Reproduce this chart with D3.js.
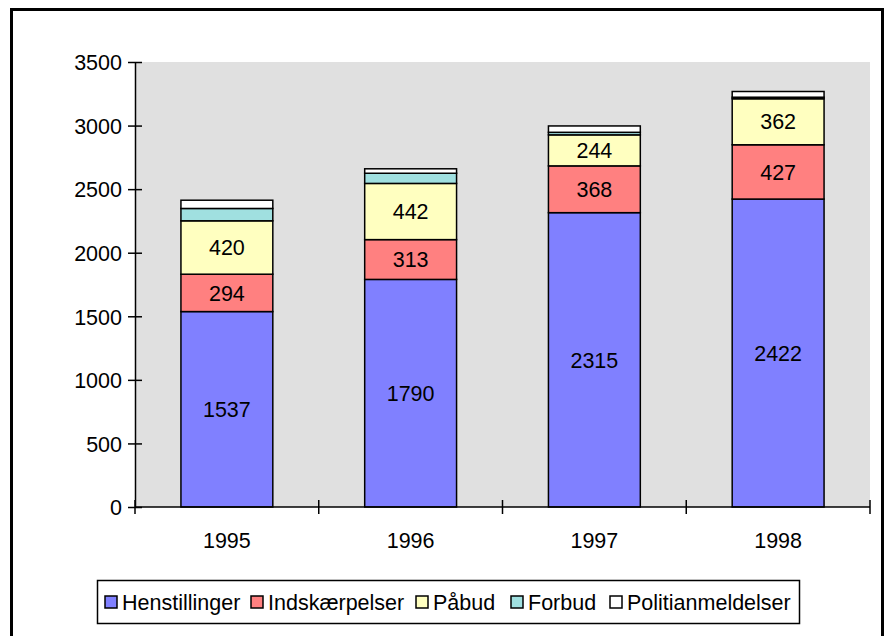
<!DOCTYPE html>
<html>
<head>
<meta charset="utf-8">
<script src="https://cdn.jsdelivr.net/npm/d3@7"></script>
<style>
  body { margin: 0; background: #fff; }
  svg text { font-family: "Liberation Sans", Arial, sans-serif; fill: #000; }
</style>
</head>
<body>
<div id="chart"></div>
<script>
// data
const years = ['1995', '1996', '1997', '1998'];
const series = ['Henstillinger', 'Indskærpelser', 'Påbud', 'Forbud', 'Politianmeldelser'];
const henstillinger = [1537, 1790, 2315, 2422];
const indskaerpelser = [294, 313, 368, 427];
const paabud = [420, 442, 244, 362];
const forbud = [97, 80, 20, 12];
const politianmeldelser = [65, 35, 50, 45];
const yTicks = [0, 500, 1000, 1500, 2000, 2500, 3000, 3500];
const colors = ['#8080ff', '#ff8080', '#ffffc0', '#a0e0e0', '#ffffff'];
const labelled = [true, true, true, false, false];

const table = years.map((y, i) => ({
	year: y,
	Henstillinger: henstillinger[i],
	'Indskærpelser': indskaerpelser[i],
	'Påbud': paabud[i],
	Forbud: forbud[i],
	Politianmeldelser: politianmeldelser[i]
}));

const W = 886, H = 636;
const margin = { left: 135, top: 62, right: 16, bottom: 129 };
const fontSize = '21.5px';

const svg = d3.select('#chart').append('svg')
	.attr('width', W)
	.attr('height', H);

// outer frame
svg.append('rect')
	.attr('x', 11.5).attr('y', 9.5)
	.attr('width', 871).attr('height', 640)
	.attr('fill', '#fff')
	.attr('stroke', '#000')
	.attr('stroke-width', 3);

const x = d3.scaleBand()
	.domain(years)
	.range([margin.left, W - margin.right])
	.paddingInner(0.5)
	.paddingOuter(0.25);

const y = d3.scaleLinear()
	.domain([0, 3500])
	.range([H - margin.bottom, margin.top]);

// plot area
svg.append('rect')
	.attr('x', margin.left).attr('y', margin.top)
	.attr('width', W - margin.right - margin.left)
	.attr('height', y(0) - margin.top)
	.attr('fill', '#e0e0e0');

const stacked = d3.stack().keys(series)(table);

const layers = svg.append('g').selectAll('g')
	.data(stacked)
	.enter()
	.append('g')
	.style('fill', (d, i) => colors[i]);

layers.selectAll('rect')
	.data(d => d)
	.enter()
	.append('rect')
	.attr('x', d => x(d.data.year))
	.attr('y', d => y(d[1]))
	.attr('width', x.bandwidth())
	.attr('height', d => y(d[0]) - y(d[1]))
	.attr('stroke', '#000')
	.attr('stroke-width', 1.5);

// value labels
stacked.forEach((layer, i) => {
	if (!labelled[i]) return;
	svg.append('g').selectAll('text')
		.data(layer)
		.enter()
		.append('text')
		.attr('x', d => x(d.data.year) + x.bandwidth() / 2)
		.attr('y', d => (y(d[0]) + y(d[1])) / 2)
		.attr('dy', '0.36em')
		.attr('text-anchor', 'middle')
		.style('font-size', fontSize)
		.text(d => d[1] - d[0]);
});

// y axis
const yAxis = svg.append('g')
	.attr('transform', 'translate(' + margin.left + ',0)')
	.call(d3.axisLeft(y).tickValues(yTicks).tickFormat(d3.format('d')).tickSize(7).tickSizeOuter(0));
yAxis.selectAll('.tick line').attr('x2', 7).attr('x1', -7);
yAxis.select('.domain').attr('stroke', '#000').attr('stroke-width', 1.5);
yAxis.selectAll('.tick line').attr('stroke', '#000').attr('stroke-width', 1.5);
yAxis.selectAll('text').style('font-size', fontSize).attr('x', -13).attr('dy', '0.36em');

// x axis
const xg = svg.append('g')
	.attr('transform', 'translate(0,' + y(0) + ')');
xg.append('line')
	.attr('x1', margin.left).attr('x2', W - margin.right)
	.attr('stroke', '#000').attr('stroke-width', 1.5);
const step = x.step();
const bounds = d3.range(years.length + 1).map(i => margin.left + i * step);
xg.selectAll('line.tk')
	.data(bounds)
	.enter()
	.append('line')
	.attr('class', 'tk')
	.attr('x1', d => d).attr('x2', d => d)
	.attr('y1', -7).attr('y2', 7)
	.attr('stroke', '#000').attr('stroke-width', 1.5);
xg.selectAll('text')
	.data(years)
	.enter()
	.append('text')
	.attr('x', d => x(d) + x.bandwidth() / 2)
	.attr('y', 41)
	.attr('text-anchor', 'middle')
	.style('font-size', fontSize)
	.text(d => d);

// legend
const legend = svg.append('g');
legend.append('rect')
	.attr('x', 97.5).attr('y', 580.5)
	.attr('width', 702).attr('height', 43)
	.attr('fill', '#fff')
	.attr('stroke', '#000')
	.attr('stroke-width', 1.5);
const legendX = [105, 251, 416, 511, 610];
series.forEach((s, i) => {
	const g = legend.append('g').attr('transform', 'translate(' + legendX[i] + ',596)');
	g.append('rect')
		.attr('width', 12).attr('height', 12)
		.attr('fill', colors[i])
		.attr('stroke', '#000')
		.attr('stroke-width', 1.5);
	g.append('text')
		.attr('x', 17).attr('y', 6)
		.attr('dy', '0.36em')
		.style('font-size', fontSize)
		.text(s);
});
</script>
</body>
</html>
